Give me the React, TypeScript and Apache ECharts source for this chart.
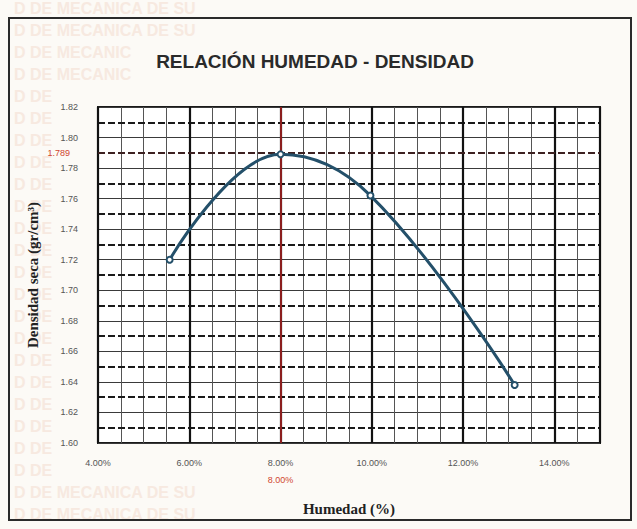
import React, { useEffect, useRef } from "react";
import * as echarts from "echarts";

// Compaction test points (moisture %, dry density g/cm³)
const humedad = [5.57, 8.0, 9.97, 13.13];
const densidad = [1.72, 1.789, 1.762, 1.638];

// Optimum moisture content and maximum dry density
const humedadOptima = 8.0;
const densidadMaxima = 1.789;

// Axis ranges
const xMin = 4;
const xMax = 15;
const yMin = 1.6;
const yMax = 1.82;

const titulo = "RELACIÓN HUMEDAD - DENSIDAD";
const ejeX = "Humedad (%)";
const ejeY = "Densidad seca (gr/cm³)";
const marcaAgua = "D DE MECANICA DE SU";
const marcaAguaMedia = "D DE MECANIC";
const marcaAguaCorta = "D DE";

export default function App() {
  const ref = useRef<HTMLDivElement>(null);

  useEffect(() => {
    if (!ref.current) return;
    const chart = echarts.init(ref.current, undefined, { renderer: "svg" });

    // faint stamp text repeated down the left side of the sheet
    const watermark: any[] = [];
    for (let y = 8; y <= 525; y += 22) {
      let text = marcaAguaCorta;
      if (y < 40 || y > 470) text = marcaAgua;
      else if (y < 90) text = marcaAguaMedia;
      watermark.push({
        type: "text",
        x: 14,
        y,
        z: -10,
        silent: true,
        style: {
          text,
          fill: "#f7e9e0",
          font: "bold 16px 'Liberation Sans', Arial, sans-serif",
          textVerticalAlign: "middle",
        },
      });
    }

    const labelFont = "'Liberation Sans', Arial, sans-serif";
    const serifFont = "'Liberation Serif', 'Times New Roman', serif";

    chart.setOption({
      animation: false,
      backgroundColor: "#fcfaf6",
      title: {
        text: titulo,
        left: 310,
        top: 47,
        textAlign: "center",
        textStyle: {
          fontFamily: labelFont,
          fontWeight: "bold",
          fontSize: 19,
          color: "#2a2a2a",
        },
      },
      grid: {
        left: 98,
        right: 37,
        top: 107,
        bottom: 86,
        show: true,
        backgroundColor: "#ffffff",
        borderColor: "#1a1a1a",
        borderWidth: 2,
      },
      graphic: [
        ...watermark,
        {
          type: "rect",
          z: 50,
          silent: true,
          shape: { x: 9, y: 18, width: 622, height: 502 },
          style: { fill: "none", stroke: "#2a2a2a", lineWidth: 2 },
        },
      ],
      xAxis: [
        {
          type: "value",
          position: "bottom",
          z: 3,
          min: xMin,
          max: xMax,
          interval: 2,
          axisLine: { show: false },
          axisTick: { show: false },
          axisLabel: {
            formatter: (v: number) => v.toFixed(2) + "%",
            color: "#555",
            fontSize: 9,
            margin: 15,
            showMaxLabel: false,
            fontFamily: labelFont,
          },
          splitLine: { lineStyle: { color: "#111", width: 2.2 } },
          name: ejeX,
          nameLocation: "middle",
          nameGap: 58,
          nameTextStyle: {
            fontFamily: serifFont,
            fontWeight: "bold",
            fontSize: 15,
            color: "#222",
          },
        },
        {
          type: "value",
          position: "top",
          z: 1,
          min: xMin,
          max: xMax,
          interval: 0.5,
          axisLine: { show: false },
          axisTick: { show: false },
          axisLabel: { show: false },
          splitLine: { lineStyle: { color: "#555", width: 1 } },
        },
      ],
      yAxis: [
        {
          type: "value",
          position: "left",
          z: 1,
          min: yMin,
          max: yMax,
          interval: 0.02,
          axisLine: { show: false },
          axisTick: { show: false },
          axisLabel: {
            formatter: (v: number) => v.toFixed(2),
            color: "#555",
            fontSize: 9,
            margin: 20,
            fontFamily: labelFont,
          },
          splitLine: { lineStyle: { color: "#3a3a3a", width: 1 } },
          name: ejeY,
          nameLocation: "middle",
          nameGap: 58,
          nameTextStyle: {
            fontFamily: serifFont,
            fontWeight: "bold",
            fontSize: 15,
            color: "#222",
          },
        },
        {
          type: "value",
          position: "right",
          z: 2,
          min: yMin,
          max: yMax,
          interval: 0.01,
          axisLine: { show: false },
          axisTick: { show: false },
          axisLabel: { show: false },
          splitLine: {
            lineStyle: {
              color: ["rgba(0,0,0,0)", "#1a1a1a"],
              width: 2,
              type: [7, 3],
            },
          },
        },
      ],
      series: [
        {
          type: "line",
          xAxisIndex: 0,
          yAxisIndex: 0,
          data: humedad.map((h, i) => [h, densidad[i]]),
          smooth: 0.4,
          symbol: "emptyCircle",
          symbolSize: 6,
          z: 5,
          lineStyle: { color: "#24506a", width: 3 },
          itemStyle: { color: "#24506a", borderColor: "#333", borderWidth: 1.5 },
          markLine: {
            silent: true,
            symbol: "none",
            data: [
              {
                xAxis: humedadOptima,
                lineStyle: { color: "#8b1e1e", width: 2, type: "solid" },
                label: {
                  show: true,
                  position: "start",
                  distance: 32,
                  formatter: humedadOptima.toFixed(2) + "%",
                  color: "#d0452f",
                  fontSize: 9,
                  fontFamily: labelFont,
                },
              },
              {
                yAxis: densidadMaxima,
                lineStyle: { color: "#4a2424", width: 1.5, type: [7, 3] },
                label: {
                  show: true,
                  position: "start",
                  distance: 28,
                  formatter: densidadMaxima.toFixed(3),
                  color: "#d0452f",
                  fontSize: 9,
                  fontFamily: labelFont,
                },
              },
            ],
          },
        },
      ],
    });

    return () => chart.dispose();
  }, []);

  return (
    <div
      ref={ref}
      style={{ position: "absolute", left: 0, top: 0, width: 637, height: 529 }}
    />
  );
}
